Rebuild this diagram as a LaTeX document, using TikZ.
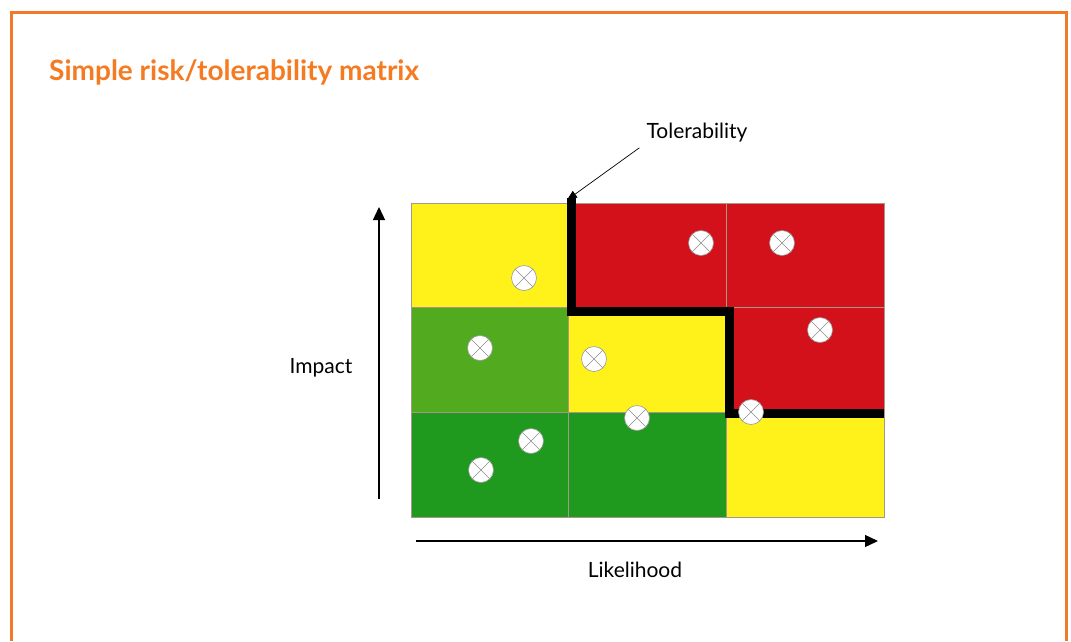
\documentclass[tikz,border=0pt]{standalone}
\usepackage{fontspec}
\setmainfont{Lato}
\usetikzlibrary{arrows.meta}
\definecolor{framecol}{HTML}{F07A28}
\definecolor{titlecol}{HTML}{F47B22}
\definecolor{riskyellow}{HTML}{FFF21B}
\definecolor{riskred}{HTML}{D2111B}
\definecolor{lightgreen}{HTML}{52AA1E}
\definecolor{darkgreen}{HTML}{1F9A1F}
\definecolor{cellborder}{HTML}{A8968A}
\tikzset{
	label/.style={inner sep=0pt, anchor=base, font=\fontsize{21}{21}\selectfont},
	axis/.style={line width=1.3pt, -{Triangle[length=13pt, width=12pt]}},
	riskmark/.style={circle, minimum size=25pt, inner sep=0pt, fill=white, draw=black!40, line width=0.6pt,
		path picture={\draw[black!45, line width=0.6pt] (path picture bounding box.north west) -- (path picture bounding box.south east)
			(path picture bounding box.north east) -- (path picture bounding box.south west);}}
}

\begin{document}
\begin{tikzpicture}[x=1pt, y=-1pt]
			%%%%% START %%%%%
			\useasboundingbox (0, 0) rectangle (1071, 641);
			
			\draw[framecol, line width=3pt] (11, 641) -- (11, 12) -- (1066, 12) -- (1066, 641);
			\node[anchor=base west, inner sep=0pt, text=titlecol, font=\fontsize{28}{28}\selectfont\bfseries] (title) at (49, 80) {Simple risk/tolerability matrix};
			
			% cells
			\foreach \col/\row/\fillcol in {0/0/riskyellow, 1/0/riskred, 2/0/riskred,
					0/1/lightgreen, 1/1/riskyellow, 2/1/riskred,
					0/2/darkgreen, 1/2/darkgreen, 2/2/riskyellow}
				\draw[fill=\fillcol, draw=cellborder, line width=0.8pt] ({411+157.7*\col}, {203+104.7*\row}) rectangle ++(157.7, 104.7);
			
			\draw[line width=9pt] (571, 198) -- (571, 311) -- (729, 311) -- (729, 413) -- (884, 413);
			
			\foreach \x/\y [count=\i] in {524/278, 701/243, 782/243, 480/348, 594/359, 820/330, 751/412, 637/418, 531/441, 481/470}
				\node[riskmark] (mark\i) at (\x, \y) {};
			
			% axes
			\coordinate (impact-from) at (379, 499);
			\coordinate (impact-to) at (379, 207);
			\draw[axis] (impact-from) -- (impact-to);
			\node[label] (impact) at (321, 373) {Impact};
			
			\coordinate (like-from) at (416, 541);
			\coordinate (like-to) at (878, 541);
			\draw[axis] (like-from) -- (like-to);
			\node[label] (like) at (635, 577) {Likelihood};
			
			\node[label] (tol) at (697, 138) {Tolerability};
			\coordinate (tol-tip) at (567, 200);
			\draw[line width=0.7pt, -{Triangle[length=10pt, width=8pt]}] ([shift={(-7pt, -6pt)}]tol.south west) -- (tol-tip);
			%%%%% END %%%%%
\end{tikzpicture}
\end{document}
